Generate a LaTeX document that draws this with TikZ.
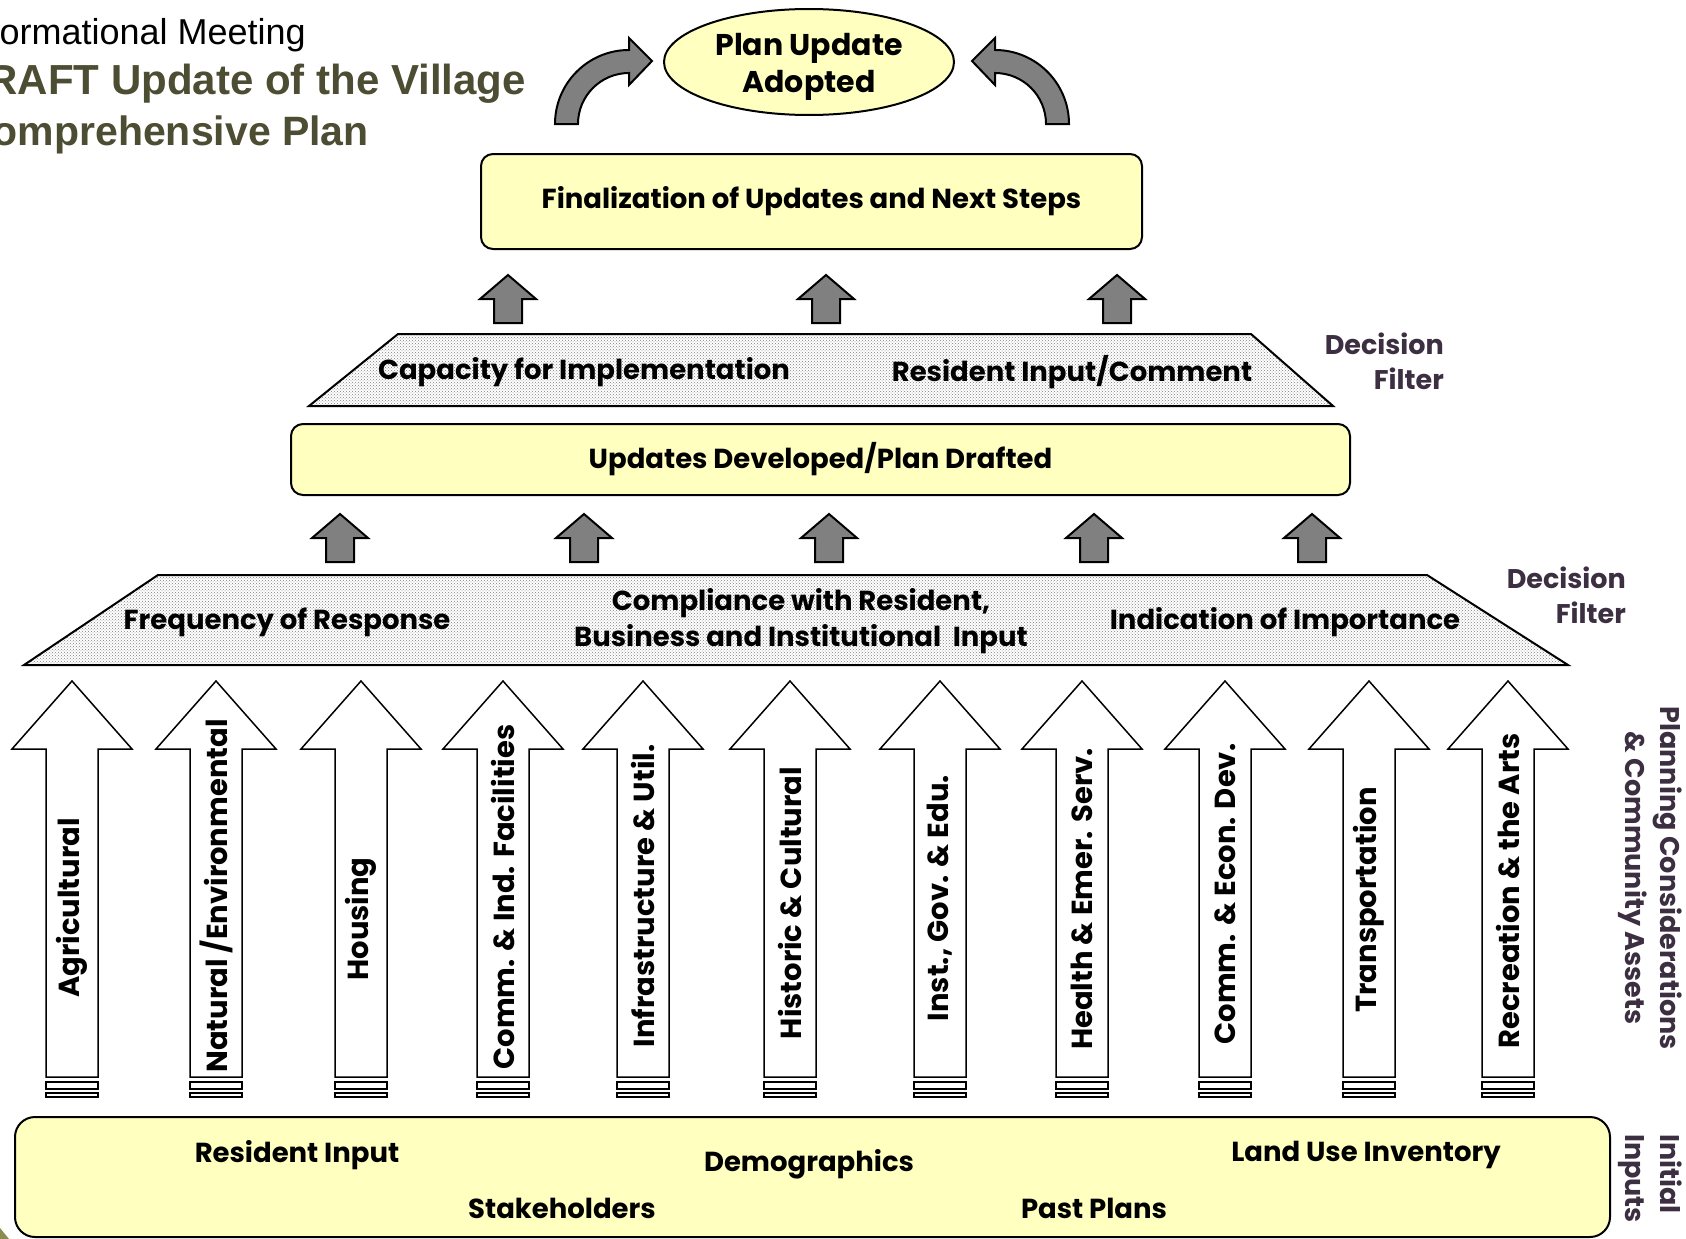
\documentclass[tikz,border=0pt]{standalone}
\usepackage{fontspec}
\setmainfont{Liberation Sans}
\newfontfamily\gothic{Poppins}
\usetikzlibrary{shapes.geometric,patterns}
\definecolor{paleyellow}{HTML}{FFFFC0}
\definecolor{olivetext}{HTML}{4D4D33}
\definecolor{plumtext}{HTML}{3C2F42}
\definecolor{arrowgray}{HTML}{808080}
\definecolor{cornerolive}{HTML}{8C8C4E}

\begin{document}
\begin{tikzpicture}[x=1pt, y=-1pt,
    box/.style={draw, line width=2, fill=paleyellow, rounded corners=12, inner sep=0,
      font=\gothic\bfseries\fontsize{27.5}{38}\selectfont, align=center},
    txt/.style={font=\gothic\bfseries\fontsize{27.5}{36}\selectfont, align=center, inner sep=0},
    armtxt/.style={font=\gothic\bfseries\fontsize{29}{32}\selectfont, inner sep=0, rotate=90},
    sidetxt/.style={font=\gothic\bfseries\fontsize{27}{35}\selectfont, text=plumtext, inner sep=0},
    grayarrow/.style={draw, line width=2, fill=arrowgray},
    filter/.style={draw, line width=2, pattern=crosshatch dots, pattern color=gray},
    bigarrow/.style={draw, line width=1.5, fill=white}]
    \useasboundingbox (0,0) rectangle (1686,1239);
    \fill [white] (0,0) rectangle (1686,1239);
    \clip (0,0) rectangle (1686,1239);

    \node [anchor=base east, inner sep=0, font=\fontsize{36}{40}\selectfont] (meeting) at (306,45) {Informational Meeting};
    \node [anchor=base east, inner sep=0, font=\bfseries\fontsize{42}{48}\selectfont, text=olivetext] (draft) at (526,95) {DRAFT Update of the Village};
    \node [anchor=base east, inner sep=0, font=\bfseries\fontsize{41}{48}\selectfont, text=olivetext] (comp) at (369,145) {Comprehensive Plan};

    \node [box, ellipse, rounded corners=0, minimum width=290, minimum height=106] (adopted) at (809,62) {};
    \node [txt, font=\gothic\bfseries\fontsize{30}{37}\selectfont] (adoptedtxt) at (809,67) {Plan Update\\Adopted};
    \foreach \s in {1,-1}
        \draw [grayarrow, shift={(812,0)}, xscale=\s] (-257,124) arc (180:270:74) -- (-183,38) -- (-160,61)
            -- (-183,85) -- (-183,73) arc (270:180:51) -- cycle;

    \node [box, minimum width=661, minimum height=95] (final) at (811.5,201.5) {Finalization of Updates and Next Steps};

    \draw [filter] (398,334) -- (1251,334) -- (1333,406) -- (309,406) -- cycle;
    \node [txt] (capacity) at (584,372) {Capacity for Implementation};
    \node [txt] (comment) at (1072,372) {Resident Input/Comment};
    \node [sidetxt, align=right, anchor=east] (filter1) at (1444,361) {Decision\\Filter};

    \node [box, minimum width=1059, minimum height=71] (drafted) at (820.5,459.5) {Updates Developed/Plan Drafted};

    \draw [filter] (158,575) -- (1427,575) -- (1568,665) -- (24,665) -- cycle;
    \node [txt] (frequency) at (287,622) {Frequency of Response};
    \node [txt] (compliance) at (801,621) {Compliance with Resident,\\Business and Institutional\ \ Input};
    \node [txt] (importance) at (1285,622) {Indication of Importance};
    \node [sidetxt, align=right, anchor=east] (filter2) at (1626,595) {Decision\\Filter};

    \foreach \x/\y in {508/275, 826/275, 1117/275, 340/514, 584/514, 829/514, 1094/514, 1312/514}
        \draw [grayarrow] (\x,\y) -- ++(28,24) -- ++(-14,0) -- ++(0,24) -- ++(-28,0) -- ++(0,-24) -- ++(-14,0) -- cycle;

    \foreach \x/\ly/\lbl [count=\i] in {72/908/Agricultural, 216/896/{Natural /Environmental}, 361/919/Housing,
            503/897/{Comm. \& Ind. Facilities}, 643/896/{Infrastructure \& Util.}, 790/903/{Historic \& Cultural},
            940/898/{Inst., Gov. \& Edu.}, 1082/899/{Health \& Emer. Serv.}, 1225/894/{Comm. \& Econ. Dev.},
            1369/900/Transportation, 1508/891/{Recreation \& the Arts}} {
        \draw [bigarrow] (\x,681) -- (\x+60,749) -- (\x+26,749) -- (\x+26,1077) -- (\x-26,1077) -- (\x-26,749)
            -- (\x-60,749) -- cycle;
        \draw [bigarrow] (\x-26,1082) rectangle (\x+26,1089);
        \draw [bigarrow] (\x-26,1093) rectangle (\x+26,1097);
        \node [armtxt] (asset\i) at (\x,\ly) {\lbl};
    }
    \node [sidetxt, rotate=-90, align=center] (assets) at (1650,878) {Planning Considerations\\\& Community Assets};

    \node [box, rounded corners=20, minimum width=1595, minimum height=120] (inputs) at (812.5,1177) {};
    \node [txt] (resident) at (297,1155) {Resident Input};
    \node [txt] (demo) at (809,1164) {Demographics};
    \node [txt] (landuse) at (1366,1155) {Land Use Inventory};
    \node [txt] (stake) at (562,1208) {Stakeholders};
    \node [txt] (past) at (1094,1208) {Past Plans};
    \node [sidetxt, rotate=-90, align=left, anchor=west] (initial) at (1650,1134) {Initial\\Inputs};

    \fill [cornerolive] (0,1228) -- (9,1239) -- (0,1239) -- cycle;
\end{tikzpicture}
\end{document}
